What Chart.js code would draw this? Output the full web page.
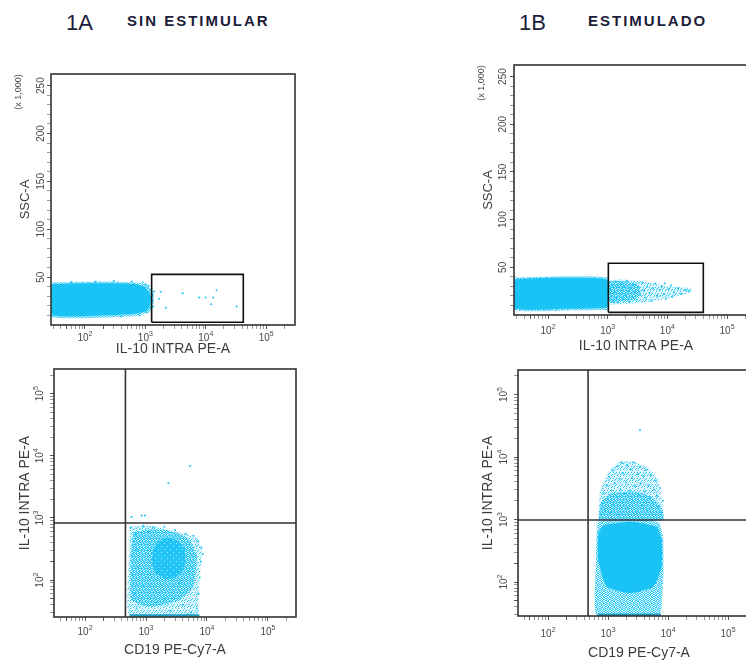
<!DOCTYPE html>
<html>
<head>
<meta charset="utf-8">
<script src="https://cdn.jsdelivr.net/npm/chart.js@4.4.1/dist/chart.umd.min.js"></script>
<style>
  html, body { margin: 0; padding: 0; background: #fff; }
  body { position: relative; width: 746px; height: 664px; overflow: hidden; font-family: "Liberation Sans", Arial, sans-serif; }
  canvas { position: absolute; }
  .hd { position: absolute; color: #1d1d3a; white-space: nowrap; line-height: 1; }
  .big { font-size: 22px; }
  .cond { font-size: 15px; font-weight: bold; letter-spacing: 2px; }
</style>
</head>
<body>
<div class="hd big" style="left:66px;top:12px">1A</div>
<div class="hd cond" style="left:127px;top:13px">SIN ESTIMULAR</div>
<div class="hd big" style="left:519px;top:12px">1B</div>
<div class="hd cond" style="left:588px;top:13px">ESTIMULADO</div>

<canvas id="tl" width="300" height="300" style="left:0;top:60px"></canvas>
<canvas id="tr" width="310" height="305" style="left:460px;top:50px"></canvas>
<canvas id="bl" width="305" height="309" style="left:0;top:355px"></canvas>
<canvas id="br" width="310" height="309" style="left:460px;top:355px"></canvas>

<script>
// tick labels
const ssaTicks = [50, 100, 150, 200, 250];          // SSC-A, x 1,000
const decadeTicks = [100, 1000, 10000, 100000];      // drawn as 10^n

// axis ranges
const ssaRange = [0, 262.144];
const tlXRange = [27.4, 300000];
const trXRange = [26.9, 330000];
const blXRange = [31, 288000];
const blYRange = [25.5, 250000];
const brXRange = [31.6, 341000];
const brYRange = [28.6, 246500];

// ---- 1A top: SSC-A vs IL-10 (x value, SSC in thousands) ----
const tlCore = [[27,42.5],[100,43.5],[300,43.5],[700,42.5],[950,40],[1150,35],[1230,28],[1200,21],[1050,15],[700,12],[300,10.5],[27,10.5],[27,42.5]];
const tlHalo = [[27,44.5],[200,45.5],[700,44.5],[1100,41.5],[1350,34],[1380,24],[1200,14],[700,9.5],[27,8.5],[27,44.5]];
const tlDots = [[1790,34.6],[4150,33.2],[1680,27.3],[2190,18.1],[7770,28.6],[9930,28.6],[13300,28.6],[15100,36.4],[12300,21.7],[32400,19.2],
  [1120,41],[1250,37],[1320,31],[1280,25],[1180,18],[1050,13],[1400,35],[1200,29],[900,44.5],[600,45.5],[300,46],[150,45.5],[60,45],[1000,42.5],[1350,19],[800,10],[400,9]];
const tlGate = [[1270,2.8],[41800,2.8],[41800,52.9],[1270,52.9],[1270,2.8]];

// ---- 1B top ----
const trCore = [[27,37.5],[100,39],[300,39],[700,38.5],[980,37],[1010,30],[1010,15],[980,8],[600,7],[200,6.5],[27,7],[27,37.5]];
const trHalo = [[27,39.5],[150,40.5],[600,40.5],[1000,39.5],[1050,35],[1050,9],[1000,5.5],[300,5],[27,5.5],[27,39.5]];
const trPlumeMid = [[1000,35],[1800,35.5],[3000,33],[3600,25],[3000,17],[1800,14],[1000,13],[1000,35]];
const trPlumeOuter = [[1000,36.5],[1700,37.5],[3000,36],[5000,34],[9000,31],[15000,29],[25000,28],[26000,24],[15000,20],[8000,16],[4000,13],[2000,11.5],[1000,11],[1000,36.5]];
const trDots = [[1050,34],[1100,27],[1150,20],[1200,31],[1250,15],[1300,24],[1350,35],[1400,18],[1450,29],[1500,13],[1600,22],[1700,33],[1750,26],[1800,17],[1900,30],[2000,21],[2100,36],[2200,25],[2300,14],[2400,28],[2600,19],[2700,32],[2900,24],[3100,16],[3300,29],[3500,21],[3800,34],[4000,26],[4300,18],[4600,30],[5000,23],[5400,15],[5800,28],[6300,33],[6800,20],[7400,26],[8000,30],[8800,22],[9500,17],[10500,27],[11500,31],[13000,24],[15000,28],[17000,22],[20000,26],[23000,25],[12000,19],[9000,33]];
const trGate = [[1025,2.8],[40000,2.8],[40000,54.2],[1025,54.2],[1025,2.8]];

// ---- 1A bottom: IL-10 vs CD19 ----
const blCore = [[1300,300],[1600,420],[2200,480],[3000,450],[4300,320],[4400,200],[4000,140],[3000,110],[2000,105],[1400,135],[1250,200],[1300,300]];
const blMid = [[617,596],[1200,650],[2190,635],[3500,560],[5270,438],[6770,237],[5960,78],[3600,48],[1165,37],[582,48],[560,200],[617,596]];
const blOuter = [[547,718],[1165,764],[3180,596],[6770,495],[8180,303],[7680,113],[7190,48],[7000,25.5],[540,25.5],[540,400],[547,718]];
const blDots = [[560,700],[620,420],[580,250],[600,120],[650,60],[700,35],[900,750],[1300,700],[2000,720],[3000,640],[4500,560],[6000,520],[7200,420],[8100,330],[8000,200],[7600,110],[7300,60],[6800,35],[5500,30],[4000,40],[2500,32],[1500,45],[900,80],[750,160],[700,300],[680,550],[1100,600],[5000,140],[6500,250],[3500,90],[2000,50],[8500,260],
  [580,1040],[850,1100],[960,1100],[2320,3650],[5270,6840]];
const blStripe = [[540,27],[7500,27]];
const blCutX = 460, blCutY = 830;

// ---- 1B bottom ----
const brCore = [[835,817],[2330,922],[6480,767],[7850,470],[7850,176],[5690,84],[2330,66],[950,84],[690,225],[690,601],[835,817]];
const brMid = [[700,960],[2300,1000],[7000,900],[8300,500],[8400,150],[7800,40],[7000,28.6],[650,28.6],[630,200],[650,700],[700,960]];
const brPlumeMid = [[700,980],[750,1800],[1100,2600],[2500,2800],[5000,2400],[7500,1600],[8300,980],[700,980]];
const brPlume = [[690,982],[735,2970],[1010,5820],[1585,8410],[2640,8410],[4410,7000],[6900,4290],[7850,2050],[8350,982],[690,982]];
const brDots = [[750,1200],[800,1800],[850,2600],[900,1400],[950,3500],[1000,2100],[1050,4800],[1100,1300],[1150,2900],[1200,6000],[1250,1700],[1300,3800],[1400,2300],[1450,7200],[1500,1200],[1550,4500],[1600,3000],[1700,8000],[1750,1900],[1800,5500],[1900,2600],[2000,3900],[2100,7400],[2200,1500],[2300,2900],[2400,6300],[2500,4600],[2600,2000],[2700,8200],[2800,3400],[2950,1300],[3100,5300],[3200,2400],[3400,7000],[3500,3800],[3700,1700],[3900,4900],[4100,2800],[4300,6200],[4500,1400],[4700,3500],[5000,2200],[5200,5100],[5500,1800],[5800,3000],[6100,4200],[6500,2400],[6900,1600],[7300,3200],[7800,1300],[8200,2000],
  [3410,26800]];
const brStripe = [[680,30],[7600,30]];
const brCutX = 465, brCutY = 981;

const CYAN = '#19c3f5';
const INK = '#333';

function pts(a) { return a.map(([x, y]) => ({ x, y })); }

function stipple(size, cells) {
  const c = document.createElement('canvas');
  c.width = c.height = size;
  const g = c.getContext('2d');
  g.fillStyle = 'rgba(25,195,245,0.15)';
  g.fillRect(0, 0, size, size);
  g.fillStyle = 'rgba(25,195,245,0.9)';
  cells.forEach(([x, y]) => g.fillRect(x, y, 1, 1));
  return g.createPattern(c, 'repeat');
}
const denseFill = stipple(3, [[0,0],[2,0],[0,1],[1,1],[2,1],[0,2],[1,2]]);
const midFill = stipple(6, [[0,0],[3,0],[4,0],[1,1],[2,1],[5,1],[0,2],[3,2],[5,2],[1,3],[2,3],[4,3],[0,4],[3,4],[5,4],[1,5],[2,5],[4,5]]);
const lowFill = stipple(6, [[1,0],[4,1],[0,3],[3,3],[5,4],[2,5],[4,5]]);

function cloud(data, bg) {
  return { data: pts(data), showLine: true, fill: 'shape', backgroundColor: bg, borderWidth: 0, pointRadius: 0, tension: 0.15 };
}
function dots(data) {
  return { data: pts(data), showLine: false, pointRadius: 1, pointBackgroundColor: CYAN, pointBorderWidth: 0 };
}
function line(data, color, width) {
  return { data: pts(data), showLine: true, fill: false, borderColor: color, borderWidth: width, pointRadius: 0, tension: 0 };
}

// keep 1..9 x 10^n ticks only, inside the frame
function wholeLogTicks(s) {
  s.ticks = s.ticks.filter(t => {
    const e = Math.floor(Math.log10(t.value) + 1e-9);
    const m = t.value / Math.pow(10, e);
    return Math.abs(m - Math.round(m)) < 1e-6 && t.value > s.min && t.value < s.max;
  });
}
function tenTicks(s) {
  s.ticks = s.ticks.filter(t => t.value > 0 && t.value < s.max && t.value % 10 === 0);
}
function isDecade(v) { return decadeTicks.includes(v) || ssaTicks.includes(v); }

function powLabel(ctx, cx, cy, v) {
  const e = String(Math.round(Math.log10(v)));
  ctx.font = '10px "Liberation Sans"';
  const w1 = ctx.measureText('10').width;
  ctx.font = '7px "Liberation Sans"';
  const w2 = ctx.measureText(e).width;
  const x0 = cx - (w1 + w2) / 2;
  ctx.textAlign = 'left';
  ctx.textBaseline = 'middle';
  ctx.font = '10px "Liberation Sans"';
  ctx.fillText('10', x0, cy);
  ctx.font = '7px "Liberation Sans"';
  ctx.fillText(e, x0 + w1, cy - 4);
}

const panelFrame = {
  id: 'panelFrame',
  afterDraw(chart, args, o) {
    const { ctx, chartArea: a, scales: { x, y } } = chart;
    ctx.save();
    ctx.strokeStyle = INK;
    ctx.lineWidth = 1.6;
    ctx.strokeRect(a.left, a.top, a.right - a.left, a.bottom - a.top);
    ctx.fillStyle = '#4a4a4a';
    decadeTicks.forEach(v => {
      if (v > x.min && v < x.max) powLabel(ctx, x.getPixelForValue(v), a.bottom + o.xGap, v);
    });
    const yl = o.yLog ? decadeTicks : ssaTicks;
    yl.forEach(v => {
      if (v <= y.min || v >= y.max) return;
      ctx.save();
      ctx.translate(a.left - o.yGap, y.getPixelForValue(v));
      ctx.rotate(-Math.PI / 2);
      if (o.yLog) powLabel(ctx, 0, 0, v);
      else {
        ctx.font = '10px "Liberation Sans"';
        ctx.textAlign = 'center';
        ctx.textBaseline = 'middle';
        ctx.fillText(String(v), 0, 0);
      }
      ctx.restore();
    });
    if (o.note) {
      ctx.save();
      ctx.translate(a.left - 32, a.top + 18);
      ctx.rotate(-Math.PI / 2);
      ctx.font = '9px "Liberation Sans"';
      ctx.textAlign = 'center';
      ctx.textBaseline = 'middle';
      ctx.fillText('(x 1,000)', 0, 0);
      ctx.restore();
    }
    ctx.restore();
  }
};

function panel(id, p) {
  const grid = {
    drawOnChartArea: false, drawTicks: true, tickLength: 4,
    tickColor: c => (c.tick && isDecade(c.tick.value)) ? '#555' : '#999'
  };
  new Chart(document.getElementById(id), {
    type: 'scatter',
    data: { datasets: p.datasets },
    options: {
      responsive: false,
      animation: false,
      events: [],
      layout: { padding: { top: p.padTop, right: p.padRight, left: 0, bottom: 0 } },
      plugins: {
        legend: { display: false },
        tooltip: { enabled: false },
        panelFrame: { xGap: p.xGap, yGap: p.yGap, yLog: p.yLog, note: !p.yLog }
      },
      scales: {
        x: {
          type: 'logarithmic', min: p.xRange[0], max: p.xRange[1],
          afterBuildTicks: wholeLogTicks,
          afterFit: s => { s.height = p.xH; },
          ticks: { display: false, autoSkip: false },
          grid: grid,
          border: { display: false },
          title: { display: true, text: p.xTitle, color: '#3c3c3c', font: { size: 14, family: '"Liberation Sans"' }, padding: { top: 0, bottom: p.xTitlePad } }
        },
        y: p.yLog ? {
          type: 'logarithmic', min: p.yRange[0], max: p.yRange[1],
          afterBuildTicks: wholeLogTicks,
          afterFit: s => { s.width = p.yW; },
          ticks: { display: false, autoSkip: false },
          grid: grid,
          border: { display: false },
          title: { display: true, text: p.yTitle, color: '#3c3c3c', font: { size: 14, family: '"Liberation Sans"' }, padding: { top: p.yTitlePad, bottom: 0 } }
        } : {
          type: 'linear', min: ssaRange[0], max: ssaRange[1],
          afterBuildTicks: tenTicks,
          afterFit: s => { s.width = p.yW; },
          ticks: { display: false, stepSize: 10, autoSkip: false },
          grid: grid,
          border: { display: false },
          title: { display: true, text: p.yTitle, color: '#3c3c3c', font: { size: 13, family: '"Liberation Sans"' }, padding: { top: p.yTitlePad, bottom: 0 } }
        }
      }
    },
    plugins: [panelFrame]
  });
}

panel('tl', {
  xRange: tlXRange, yLog: false, xTitle: 'IL-10 INTRA PE-A', yTitle: 'SSC-A',
  padTop: 14, padRight: 5, xH: 35, yW: 51, xTitlePad: 2.6, yTitlePad: 17.2, xGap: 13, yGap: 10,
  datasets: [line(tlGate, '#111', 1.6), dots(tlDots), cloud(tlCore, CYAN), cloud(tlHalo, midFill)]
});

panel('tr', {
  xRange: trXRange, yLog: false, xTitle: 'IL-10 INTRA PE-A', yTitle: 'SSC-A',
  padTop: 15, padRight: 12, xH: 40, yW: 54, xTitlePad: 0.6, yTitlePad: 20.2, xGap: 16, yGap: 11,
  datasets: [line(trGate, '#111', 1.6), dots(trDots), cloud(trCore, CYAN), cloud(trHalo, midFill),
    cloud(trPlumeMid, midFill), cloud(trPlumeOuter, lowFill)]
});

panel('bl', {
  xRange: blXRange, yRange: blYRange, yLog: true, xTitle: 'CD19 PE-Cy7-A', yTitle: 'IL-10 INTRA PE-A',
  padTop: 14, padRight: 9, xH: 47, yW: 54, xTitlePad: 5.6, yTitlePad: 16.6, xGap: 15, yGap: 14,
  datasets: [
    line([[blCutX, blYRange[0]], [blCutX, blYRange[1]]], INK, 1.6),
    line([[blXRange[0], blCutY], [blXRange[1], blCutY]], INK, 1.6),
    line(blStripe, '#1c9cc4', 2.5),
    dots(blDots), cloud(blCore, denseFill), cloud(blMid, midFill), cloud(blOuter, lowFill)]
});

panel('br', {
  xRange: brXRange, yRange: brYRange, yLog: true, xTitle: 'CD19 PE-Cy7-A', yTitle: 'IL-10 INTRA PE-A',
  padTop: 15, padRight: 10, xH: 48, yW: 58, xTitlePad: 2.6, yTitlePad: 19.6, xGap: 18, yGap: 14,
  datasets: [
    line([[brCutX, brYRange[0]], [brCutX, brYRange[1]]], INK, 1.6),
    line([[brXRange[0], brCutY], [brXRange[1], brCutY]], INK, 1.6),
    line(brStripe, '#1c9cc4', 2.5),
    dots(brDots), cloud(brCore, CYAN), cloud(brMid, midFill), cloud(brPlumeMid, midFill), cloud(brPlume, lowFill)]
});
</script>
</body>
</html>
